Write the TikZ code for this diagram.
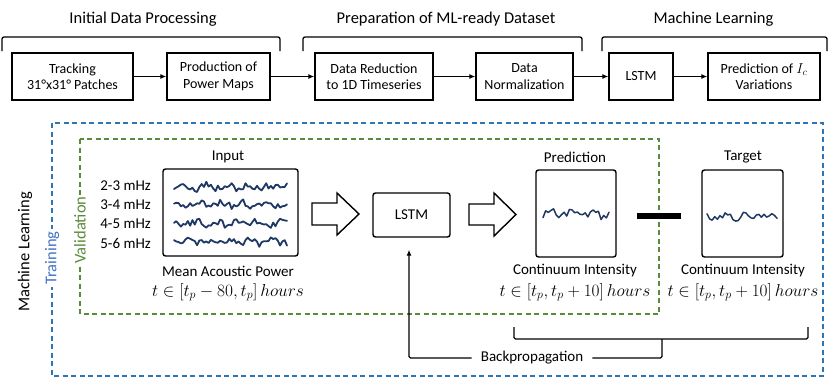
\documentclass[tikz,border=0pt]{standalone}
\usepackage[no-math]{fontspec}
\setmainfont{Carlito}
\usetikzlibrary{arrows.meta}
\definecolor{wavec}{HTML}{1F3864}
\definecolor{trainblue}{HTML}{2E75B6}
\definecolor{traintext}{HTML}{4472C4}
\definecolor{valgreen}{HTML}{5A8A3A}
\newcommand{\mywave}[6]{%
  \pgfmathsetseed{#5}%
  \draw[wave] plot[domain=#1:#2, samples=#6, variable=\t] (\t, {#3 + #4*(0.7*rand + 0.35*sin((\t-#1)*17+#5*7))});%
}
\tikzset{
  topbox/.style={draw, line width=1.4pt, align=center, inner sep=2pt, font=\fontsize{14}{16.5}\selectfont},
  flow/.style={line width=1.2pt, -{Latex[length=6pt,width=5pt]}},
  brk/.style={line width=1.3pt, rounded corners=2pt},
  title/.style={font=\fontsize{16.5}{19}\selectfont},
  panel/.style={draw, line width=1.4pt, rounded corners=2.5pt},
  barrow/.style={draw, line width=1.4pt, fill=white, line join=miter},
  wave/.style={wavec, line width=1.8pt, line join=round, line cap=round},
  lab/.style={inner sep=1pt, font=\fontsize{15}{18}\selectfont},
  mth/.style={inner sep=1pt, font=\fontsize{17}{20}\selectfont},
}
\begin{document}
\begin{tikzpicture}[x=1pt,y=-1pt, font=\fontsize{12.5}{14.5}\selectfont]
\useasboundingbox (0,0) rectangle (830,378);

% ---- top row ----
\node[title] (t1) at (143,19) {Initial Data Processing};
\node[title] (t2) at (446,19) {Preparation of ML-ready Dataset};
\node[title] (t3) at (713.5,19) {Machine Learning};

\draw[brk] (2,51) |- (280,37) -- (280,51);
\draw[brk] (303,51) |- (582,37) -- (582,51);
\draw[brk] (602,51) |- (827,37) -- (827,51);

\node[topbox, minimum width=121pt, minimum height=47pt] (tr) at (72.5,76.5) {Tracking\\31°x31° Patches};
\node[topbox, minimum width=103pt, minimum height=47pt] (pm) at (218.5,76.5) {Production of\\Power Maps};
\node[topbox, minimum width=118pt, minimum height=47pt] (dr) at (374,76.5) {Data Reduction\\to 1D Timeseries};
\node[topbox, minimum width=97pt, minimum height=47pt] (dn) at (524.5,76.5) {Data\\Normalization};
\node[topbox, minimum width=64pt, minimum height=47pt] (ls) at (641,76.5) {LSTM};
\node[topbox, minimum width=112pt, minimum height=47pt] (pi) at (764,76.5) {Prediction of $I_c$\\Variations};

\draw[flow] (tr) -- (pm);
\draw[flow] (pm) -- (dr);
\draw[flow] (dr) -- (dn);
\draw[flow] (dn) -- (ls);
\draw[flow] (ls) -- (pi);

% ---- bottom part ----
\draw[trainblue, line width=1.5pt, dash pattern=on 5pt off 3.5pt] (52,123) rectangle (823,376);
\draw[valgreen, line width=1.3pt, dash pattern=on 5pt off 3.5pt] (80,139) rectangle (659,314);

\node[rotate=90, title] (ml) at (25,252) {Machine Learning};
\node[rotate=90, title, fill=white, text=traintext, inner sep=2pt] (trn) at (52,258) {Training};
\node[rotate=90, title, fill=white, text=valgreen, inner sep=2pt] (val) at (80,230) {Validation};

% input
\node[lab] (inl) at (228,157) {Input};
\node[panel, minimum width=135pt, minimum height=87pt] (inbox) at (230.5,212.5) {};
\node[lab, anchor=east] (f1) at (152,186) {2-3 mHz};
\node[lab, anchor=east] (f2) at (152,205) {3-4 mHz};
\node[lab, anchor=east] (f3) at (152,224) {4-5 mHz};
\node[lab, anchor=east] (f4) at (152,243) {5-6 mHz};
\mywave{174}{287}{187}{5.5}{11}{50}
\mywave{174}{287}{205}{5.5}{23}{50}
\mywave{174}{287}{223}{5.5}{37}{50}
\mywave{174}{287}{242}{5.0}{59}{50}
\node[lab] (inc) at (228,271) {Mean Acoustic Power};
\node[mth] (inm) at (228,292) {$t \in \bigl[t_p - 80, t_p\bigr]\, hours$};

% block arrows
\draw[barrow] (312,203) -- (337,203) -- (337,193) -- (359,214) -- (337,235) -- (337,225) -- (312,225) -- cycle;
\draw[barrow] (469,204) -- (494,204) -- (494,193) -- (516,214.5) -- (494,236) -- (494,225) -- (469,225) -- cycle;

% lstm
\node[panel, lab, minimum width=77pt, minimum height=44pt] (lstm) at (411.5,215) {LSTM};

% prediction
\node[lab] (prl) at (575,157) {Prediction};
\node[panel, minimum width=80pt, minimum height=87pt] (pred) at (576,213.5) {};
\begin{scope}[wave/.append style={line width=1.5pt}]
\mywave{543}{609}{214}{6}{71}{26}
\end{scope}
\node[lab] (prc) at (575,271) {Continuum Intensity};
\node[mth] (prm) at (575,292) {$t \in \bigl[t_p, t_p + 10\bigr]\, hours$};

% minus
\fill (637,213) rectangle (681,219);

% target
\node[lab] (tgl) at (743,157) {Target};
\node[panel, minimum width=81pt, minimum height=87pt] (tgt) at (742.5,213.5) {};
\begin{scope}[wave/.append style={line width=1.5pt}]
\mywave{707}{777}{216}{5}{97}{28}
\end{scope}
\node[lab] (tgc) at (743,271) {Continuum Intensity};
\node[mth] (tgm) at (743,292) {$t \in \bigl[t_p, t_p + 10\bigr]\, hours$};

% backpropagation
\draw[line width=1.3pt, rounded corners=1.5pt] (514,327) -- (514,339) -- (808,339) -- (808,327);
\coordinate (stem) at (662,339);
\node[lab, inner xsep=9pt, inner ysep=1pt] (bp) at (532,358) {Backpropagation};
\draw[line width=1.3pt, rounded corners=1.5pt] (stem) |- (bp.east);
\draw[line width=1.3pt, rounded corners=1.5pt, -{Latex[length=6pt,width=5pt]}, shorten >=12pt] (bp.west) -| ([xshift=-2.5pt]lstm.south);
\end{tikzpicture}
\end{document}
